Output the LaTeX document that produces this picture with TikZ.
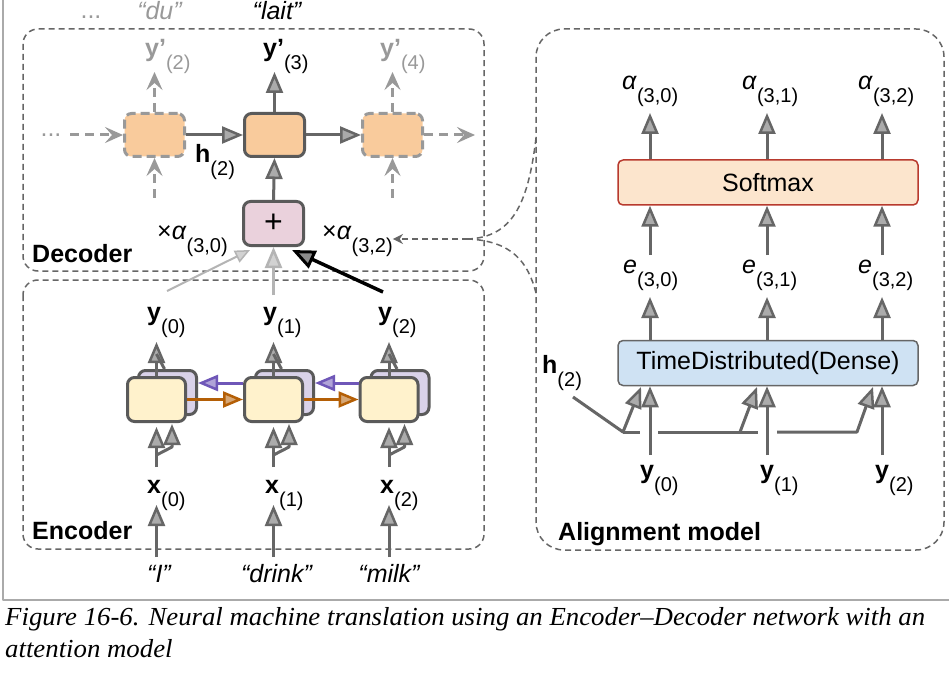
\documentclass[tikz,border=0pt]{standalone}
\usepackage{fontspec}
\setmainfont{Liberation Sans}
\newfontfamily\capfont{Liberation Serif}
\usetikzlibrary{arrows.meta}
\definecolor{dg}{HTML}{666666}
\definecolor{cellb}{HTML}{5A5A5A}
\definecolor{lg}{HTML}{999999}
\definecolor{llg}{HTML}{B4B4B4}
\definecolor{peach}{HTML}{F9CB9C}
\definecolor{pinkf}{HTML}{EAD1DC}
\definecolor{yellf}{HTML}{FFF2CC}
\definecolor{lavf}{HTML}{D9D2E9}
\definecolor{orng}{HTML}{B45F06}
\definecolor{purp}{HTML}{6F57B8}
\definecolor{smf}{HTML}{FCE5CD}
\definecolor{smd}{HTML}{B83A2E}
\definecolor{tdf}{HTML}{CFE2F3}
\definecolor{framec}{HTML}{AAAAAA}
\newcommand{\sbs}[1]{\raisebox{-13pt}{\mdseries\upshape\fontsize{20}{20}\selectfont #1}}
\newcommand{\alp}{\textit{α}}
\newcommand{\capone}{Figure 16-6. Neural machine translation using an Encoder–Decoder network with an}
\newcommand{\captwo}{attention model}
\newcommand{\capfnt}{\capfont\itshape\fontsize{26}{32}\selectfont}
\newdimen\capw
\begin{document}
\settowidth{\capw}{\capfnt\capone}%
\pgfmathsetmacro{\capsc}{920/\capw}%
\begin{tikzpicture}[x=1pt,y=-1pt, font=\fontsize{25}{30}\selectfont,
  line join=round,
  lbl/.style={anchor=base west, inner sep=0pt},
  clbl/.style={anchor=base, inner sep=0pt},
  grp/.style={draw=dg, line width=1.5pt, dash pattern=on 6pt off 4pt},
  arr/.style={draw=dg, line width=3pt, -{Triangle[length=21pt,width=17pt,line width=2.5pt,fill=dg!55!white]}},
  ln/.style={draw=dg, line width=3pt},
  garr/.style={draw=lg, line width=3pt, dash pattern=on 9pt off 6pt, -{Stealth[length=18pt,width=16pt,inset=7pt]}},
  larr/.style={draw=llg, line width=2pt, -{Triangle[length=15pt,width=13pt,line width=1.5pt,fill=llg!60!white]}},
  marr/.style={draw=llg, line width=3pt, -{Triangle[length=21pt,width=17pt,line width=2.5pt,fill=llg!60!white]}},
  barr/.style={draw=black, line width=3.5pt, -{Triangle[length=23pt,width=19pt,line width=3pt,fill=black!45!white]}},
  oarr/.style={draw=orng, line width=3pt, -{Triangle[length=20pt,width=16pt,line width=2.5pt,fill=orng!55!white]}},
  parr/.style={draw=purp, line width=3pt, -{Triangle[length=20pt,width=16pt,line width=2.5pt,fill=purp!55!white]}},
  dcell/.style={draw=cellb, line width=3pt, fill=peach, rounded corners=7pt, minimum width=60pt, minimum height=43pt, inner sep=0pt},
  dgcell/.style={draw=lg, line width=3pt, dash pattern=on 9pt off 5pt, fill=peach, rounded corners=7pt, minimum width=60pt, minimum height=43pt, inner sep=0pt},
  efr/.style={draw=cellb, line width=3pt, fill=yellf, rounded corners=7pt, minimum width=58pt, minimum height=44pt, inner sep=0pt},
  ebk/.style={draw=cellb, line width=3pt, fill=lavf, rounded corners=7pt, minimum width=58pt, minimum height=44pt, inner sep=0pt},
  wide/.style={line width=1.5pt, rounded corners=5pt, minimum width=300pt, minimum height=45pt, inner sep=0pt},
  dl/.style={draw=dg, line width=1.5pt, dash pattern=on 6pt off 4pt}
]
\fill[white] (0,0) rectangle (949,676);
\useasboundingbox (0,0) rectangle (949,676);
% frame
\draw[framec, line width=1.5pt] (3,0) -- (3,600) -- (949,600);
% groups
\draw[grp, rounded corners=15pt] (23,29) rectangle (484,271);
\draw[grp, rounded corners=15pt] (23,280) rectangle (484,549);
\draw[grp, rounded corners=28pt] (536,29) rectangle (944,550);

% ---------------- Decoder ----------------
\node[clbl, text=lg] (dtop) at (91,19) {...};
\node[clbl, text=lg] (du) at (159.5,20) {\itshape “du”};
\node[clbl] (lait) at (277,20) {\itshape “lait”};
\node[lbl, text=lg] (yo2) at (145,57) {\textbf{y’}\sbs{(2)}};
\node[lbl] (yo3) at (263,57) {\textbf{y’}\sbs{(3)}};
\node[lbl, text=lg] (yo4) at (380,57) {\textbf{y’}\sbs{(4)}};

\node[dgcell] (d1) at (154.5,135) {};
\node[dcell] (d2) at (274.5,135) {};
\node[dgcell] (d3) at (392.5,135) {};
\node[draw=cellb, line width=3pt, fill=pinkf, rounded corners=7pt, minimum width=60pt, minimum height=44pt, inner sep=0pt, font=\fontsize{32}{32}\selectfont] (plus) at (273.5,223.5) {+};

\node[clbl, text=lg] (dleft) at (51,137) {...};
\coordinate (dlin) at (70,135);
\coordinate (drout) at (475,135);
\draw[garr] (dlin) -- (d1.west);
\draw[arr] (d1.east) -- (d2.west);
\draw[arr] (d2.east) -- (d3.west);
\draw[garr] (d3.east) -- (drout);
\draw[garr] (d1.north) -- (d1.north |- 0,72);
\draw[garr] (d1.south |- 0,198) -- (d1.south);
\draw[garr] (d3.north) -- (d3.north |- 0,72);
\draw[garr] (d3.south |- 0,198) -- (d3.south);
\draw[arr] (d2.north) -- (d2.north |- 0,72);
\draw[arr] (plus.north) -- (d2.south);

\node[lbl] (h2d) at (195,163) {\textbf{h}\sbs{(2)}};
\node[lbl] (a30) at (157,240) {×\alp\sbs{(3,0)}};
\node[lbl] (a32) at (322,240) {×\alp\sbs{(3,2)}};
\node[lbl] (declbl) at (32,262) {\textbf{Decoder}};

% inputs to plus
\coordinate (lgs) at (167,291);
\coordinate (lgt) at (250,250);
\coordinate (mgs) at (273.5,295);
\coordinate (bks) at (383,292);
\coordinate (bkt) at (292,250);
\draw[larr] (lgs) -- (lgt);
\draw[marr] (mgs) -- (plus.south);
\draw[barr] (bks) -- (bkt);

% ---------------- Encoder ----------------
\node[lbl] (ey0) at (147,320) {\textbf{y}\sbs{(0)}};
\node[lbl] (ey1) at (263,320) {\textbf{y}\sbs{(1)}};
\node[lbl] (ey2) at (378,320) {\textbf{y}\sbs{(2)}};

\node[ebk] (eb0) at (167.5,392.5) {};
\node[efr] (e0) at (156.5,399.5) {};
\node[ebk] (eb1) at (284.5,392.5) {};
\node[efr] (e1) at (273.5,399.5) {};
\node[ebk] (eb2) at (400,392.5) {};
\node[efr] (e2) at (389,399.5) {};

\foreach \c/\b in {e0/eb0,e1/eb1,e2/eb2}{
  \draw[arr] (\c.north) -- (\c.north |- 0,342);
  \draw[ln] ([xshift=-3pt]\b.north) -- (\c.north |- 0,354);
}
\draw[parr] (e1.west |- 0,383) -- (eb0.east |- 0,383);
\draw[parr] (e2.west |- 0,383) -- (eb1.east |- 0,383);
\draw[oarr] (e0.east) -- (e1.west);
\draw[oarr] (e1.east) -- (e2.west);

\foreach \x in {156.5,273.5,389}{
  \draw[arr] (\x,467) -- (\x,427);
  \draw[arr] (\x,455) -- (\x+15.5,447) -- (\x+15.5,424);
  \draw[arr] (\x,557) -- (\x,505);
}

\node[lbl] (ex0) at (147,493) {\textbf{x}\sbs{(0)}};
\node[lbl] (ex1) at (265,493) {\textbf{x}\sbs{(1)}};
\node[lbl] (ex2) at (380,493) {\textbf{x}\sbs{(2)}};
\node[lbl] (enclbl) at (32,539) {\textbf{Encoder}};
\node[clbl] (wI) at (159,582) {\itshape “I”};
\node[clbl] (wdrink) at (276.5,582) {\itshape “drink”};
\node[clbl] (wmilk) at (389,582) {\itshape “milk”};

% ---------------- Alignment model ----------------
\node[lbl] (al0) at (622,90) {\alp\sbs{(3,0)}};
\node[lbl] (al1) at (742,90) {\alp\sbs{(3,1)}};
\node[lbl] (al2) at (858,90) {\alp\sbs{(3,2)}};
\node[wide, draw=smd, fill=smf] (sm) at (768,182.5) {Softmax};
\node[lbl] (ee0) at (623,273) {\textit{e}\sbs{(3,0)}};
\node[lbl] (ee1) at (742,273) {\textit{e}\sbs{(3,1)}};
\node[lbl] (ee2) at (858,273) {\textit{e}\sbs{(3,2)}};
\node[wide, draw=dg, fill=tdf] (td) at (768,363) {TimeDistributed(Dense)};
\node[lbl] (ay0) at (640,478) {\textbf{y}\sbs{(0)}};
\node[lbl] (ay1) at (760,478) {\textbf{y}\sbs{(1)}};
\node[lbl] (ay2) at (875,478) {\textbf{y}\sbs{(2)}};
\node[lbl] (h2a) at (542,373) {\textbf{h}\sbs{(2)}};
\node[lbl] (alnlbl) at (558,540) {\textbf{Alignment model}};

\foreach \x in {650,767,882}{
  \draw[arr] (sm.north -| \x,0) -- (\x,113);
  \draw[arr] (\x,255) -- (sm.south -| \x,0);
  \draw[arr] (td.north -| \x,0) -- (\x,297);
  \draw[arr] (\x,455) -- (td.south -| \x,0);
}
\coordinate (hs) at (573,397);
\draw[arr] (hs) -- (623,432) -- (641,387);
\draw[ln] (623,432) -- (640,432);
\draw[ln] (658,432) -- (758,432);
\draw[arr] (740,432) -- (757,387);
\draw[arr] (777,432) -- (857,432) -- (873,387);

% link alignment -> decoder
\coordinate (lk1) at (536,138);
\coordinate (lk2) at (536,293);
\coordinate (lkj) at (468,239);
\draw[dl] (lk1) .. controls (528,205) and (512,237) .. (lkj);
\draw[dl] (lk2) .. controls (528,262) and (512,241) .. (lkj);
\draw[draw=dg, line width=2.5pt, dash pattern=on 6pt off 4pt, -{Stealth[length=10pt,width=10pt]}] (lkj) -- (a32.east |- 0,239);

% ---------------- Caption ----------------
\node[lbl] (cap1) at (5,625) {\scalebox{\capsc}[1]{\capfnt\capone}};
\node[lbl] (cap2) at (5,657) {\scalebox{\capsc}[1]{\capfnt\captwo}};
\end{tikzpicture}
\end{document}
